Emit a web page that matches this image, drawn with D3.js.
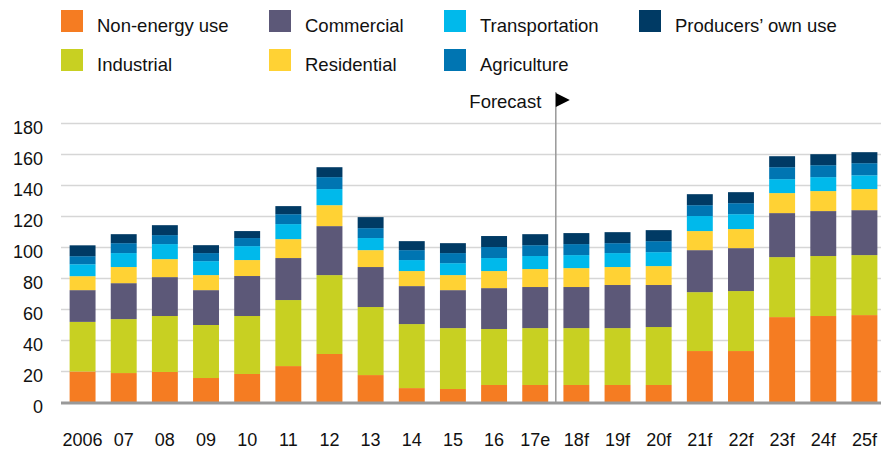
<!DOCTYPE html>
<html>
<head>
<meta charset="utf-8">
<script src="https://cdn.jsdelivr.net/npm/d3@7"></script>
<style>
  html, body { margin: 0; padding: 0; background: #fff; }
  svg { display: block; font-family: "Liberation Sans", Arial, Helvetica, sans-serif; }
</style>
</head>
<body>
<svg id="chart" width="881" height="449"></svg>
<script>
// ---- Data ----
const years = ["2006","07","08","09","10","11","12","13","14","15","16","17e","18f","19f","20f","21f","22f","23f","24f","25f"];
const seriesNames = ["Non-energy use","Industrial","Commercial","Residential","Transportation","Agriculture","Producers\u2019 own use"];
const nonEnergy      = [20,19,19.7,15.8,18.4,23.5,31.3,17.7,9.3,8.7,11.3,11.3,11.3,11.3,11.3,33.2,33.2,55.1,55.8,56.4];
const industrial     = [32,34.8,36.1,34.2,37.4,42.6,50.9,43.9,41.3,39.3,36.1,36.7,36.7,36.7,37.4,38,38.7,38.7,38.7,38.7];
const commercial     = [20.5,23.2,25.1,22.5,25.8,27.1,31.6,25.8,24.5,24.5,26.4,26.5,26.5,27.8,27.1,27.1,27.7,28.4,29,29];
const residential    = [9,10.4,11.6,9.7,10.3,12.2,13.5,10.9,9.7,9.7,11,11.6,12.2,11.6,12.2,12.3,12.3,12.9,12.9,13.6];
const transportation = [7.7,9,9.7,9,9,9.7,10.4,7.8,7.1,7.7,8.4,8.4,8.4,9,9,9.7,9.6,9,9,8.9];
const agriculture    = [5.2,6.4,5.8,5.2,5.2,6.4,7.7,6.4,6.4,6.5,7.1,7,7.1,6.4,7.1,7,7.1,7.7,7.7,7.8];
const producers      = [7,5.8,6.4,5.1,4.5,5.2,6.4,7.1,5.8,6.4,7.1,7.1,7.1,7.1,7.1,7.1,7.1,7.1,7.1,7.1];
const yTicks = [0,20,40,60,80,100,120,140,160,180];
const forecastStart = "18f";
const forecastLabel = "Forecast";

// ---- Styles ----
const colors = ["#F57C22","#C8D022","#5C5878","#FFD234","#00B9EB","#0075B2","#003A64"];

const seriesValues = [nonEnergy, industrial, commercial, residential, transportation, agriculture, producers];
const table = years.map((y, i) => {
  const row = { year: y };
  seriesNames.forEach((s, k) => row[s] = seriesValues[k][i]);
  return row;
});

const svg = d3.select("#chart");

const x = d3.scaleBand().domain(years).range([62, 885]).paddingInner(0.37).paddingOuter(0.185);
const y = d3.scaleLinear().domain([0, 180]).range([402.5, 123.5]);

// gridlines
svg.append("g").selectAll("line").data(yTicks.filter(t => t > 0)).join("line")
  .attr("x1", 61).attr("x2", 881)
  .attr("y1", d => y(d)).attr("y2", d => y(d))
  .attr("stroke", "#d6d6d6").attr("stroke-width", 1.3);

// y labels
svg.append("g").selectAll("text").data(yTicks).join("text")
  .attr("x", 43).attr("y", d => y(d) + 10.5)
  .attr("text-anchor", "end")
  .attr("font-size", 18).attr("fill", "#111")
  .text(d => d);

// stacked bars
const stack = d3.stack().keys(seriesNames)(table);
svg.append("g").selectAll("g").data(stack).join("g")
  .attr("fill", (d, i) => colors[i])
  .selectAll("rect").data(d => d).join("rect")
  .attr("x", d => x(d.data.year))
  .attr("width", x.bandwidth())
  .attr("y", d => y(d[1]))
  .attr("height", d => y(d[0]) - y(d[1]));

// baseline
svg.append("line")
  .attr("x1", 61).attr("x2", 881)
  .attr("y1", y(0) + 0.5).attr("y2", y(0) + 0.5)
  .attr("stroke", "#999").attr("stroke-width", 3);

// x labels
svg.append("g").selectAll("text").data(years).join("text")
  .attr("x", d => x(d) + x.bandwidth() / 2)
  .attr("y", 446)
  .attr("text-anchor", "middle")
  .attr("font-size", 18).attr("fill", "#111")
  .text(d => d);

// forecast marker
const fx = x(forecastStart) - x.step() * x.paddingInner() / 2;
svg.append("line")
  .attr("x1", fx).attr("x2", fx)
  .attr("y1", 92).attr("y2", y(0))
  .attr("stroke", "#999").attr("stroke-width", 1.5);
svg.append("path")
  .attr("d", `M${fx},93 L${fx + 14},100 L${fx},107 Z`)
  .attr("fill", "#000");
svg.append("text")
  .attr("x", fx - 14.5).attr("y", 107.5)
  .attr("text-anchor", "end")
  .attr("font-size", 18.5).attr("fill", "#111")
  .text(forecastLabel);

// legend
const legendCols = [61, 269, 444, 639];
const legendRows = [10, 49];
const lg = svg.append("g").selectAll("g").data(seriesNames).join("g")
  .attr("transform", (d, i) => `translate(${legendCols[Math.floor(i / 2)]},${legendRows[i % 2]})`);
lg.append("rect")
  .attr("width", 22).attr("height", 22)
  .attr("fill", (d, i) => colors[i]);
lg.append("text")
  .attr("x", 36).attr("y", 22.3)
  .attr("font-size", 18.5).attr("fill", "#111")
  .text(d => d);
</script>
</body>
</html>
